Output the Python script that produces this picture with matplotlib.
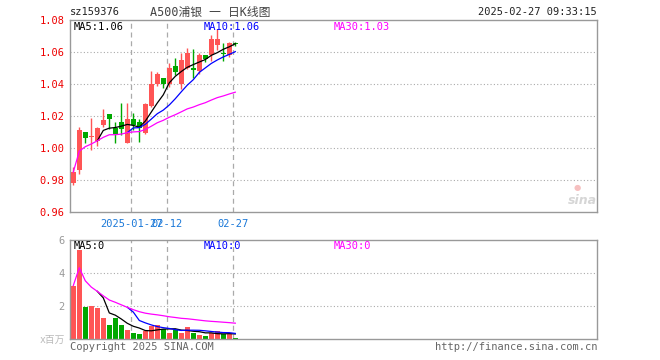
import matplotlib
matplotlib.use('Agg')
import matplotlib.pyplot as plt
import numpy as np

# ---------------- data ----------------
dates = ['2025-01-13', '2025-01-14', '2025-01-15', '2025-01-16', '2025-01-17',
         '2025-01-20', '2025-01-21', '2025-01-22', '2025-01-23', '2025-01-24',
         '2025-01-27', '2025-02-05', '2025-02-06', '2025-02-07', '2025-02-10',
         '2025-02-11', '2025-02-12', '2025-02-13', '2025-02-14', '2025-02-17',
         '2025-02-18', '2025-02-19', '2025-02-20', '2025-02-21', '2025-02-24',
         '2025-02-25', '2025-02-26', '2025-02-27']
opens = [0.978, 0.986, 1.010, 1.0067, 1.0045, 1.0144, 1.021, 1.0127, 1.016, 1.0033,
         1.018, 1.016, 1.0096, 1.026, 1.040, 1.044, 1.040, 1.0515, 1.040, 1.0498,
         1.050, 1.048, 1.058, 1.058, 1.0644, 1.0595, 1.0581, 1.0658]
closes = [0.985, 1.011, 1.0065, 1.0075, 1.0125, 1.0175, 1.018, 1.0085, 1.0117, 1.018,
          1.0144, 1.0125, 1.0275, 1.040, 1.0463, 1.040, 1.050, 1.0477, 1.055, 1.0595,
          1.0485, 1.058, 1.0555, 1.068, 1.068, 1.059, 1.0658, 1.065]
highs = [0.988, 1.013, 1.010, 1.019, 1.013, 1.0244, 1.021, 1.0165, 1.028, 1.028,
         1.022, 1.018, 1.028, 1.048, 1.0477, 1.044, 1.053, 1.056, 1.0595, 1.0625,
         1.062, 1.0595, 1.058, 1.0706, 1.0742, 1.0658, 1.0665, 1.066]
lows = [0.977, 0.984, 1.003, 0.999, 1.001, 1.0133, 1.012, 1.003, 1.008, 1.0029,
        1.011, 1.004, 1.0088, 1.0255, 1.0388, 1.0373, 1.038, 1.0456, 1.037, 1.0495,
        1.044, 1.046, 1.054, 1.0546, 1.0613, 1.0546, 1.0569, 1.0637]
volumes = [3.24, 5.4, 1.94, 2.0, 1.86, 1.26, 0.84, 1.26, 0.84, 0.56,
           0.36, 0.30, 0.50, 0.76, 0.84, 0.60, 0.36, 0.54, 0.36, 0.72,
           0.36, 0.24, 0.18, 0.36, 0.48, 0.30, 0.30, 0.08]

price_ticks = [0.96, 0.98, 1.00, 1.02, 1.04, 1.06, 1.08]
vol_ticks = [2, 4, 6]
date_tick_dates = ['2025-01-27', '2025-02-12', '2025-02-27']
date_tick_labels = ['2025-01-27', '02-12', '02-27']

code = 'sz159376'
title = 'A500浦银 一 日K线图'
stamp = '2025-02-27 09:33:15'
ma_price_labels = ['MA5:1.06', 'MA10:1.06', 'MA30:1.03']
ma_vol_labels = ['MA5:0', 'MA10:0', 'MA30:0']

# ---------------- style ----------------
W, H = 660, 360
UP = '#ff5555'
DOWN = '#00a800'
BORDER = '#999999'
MA_COLORS = ['#000000', '#0000ff', '#ff00ff']
MONO = ['DejaVu Sans Mono', 'Noto Sans CJK SC']

o = np.array(opens); c = np.array(closes); h = np.array(highs); l = np.array(lows)
v = np.array(volumes)
n = len(c)
x = np.arange(n)
up = c >= o
cols = np.where(up, UP, DOWN)


def ma(arr, k, expanding=False):
    out = np.full(len(arr), np.nan)
    for i in range(len(arr)):
        if i + 1 >= k:
            out[i] = arr[i + 1 - k:i + 1].mean()
        elif expanding:
            out[i] = arr[:i + 1].mean()
    return out


fig = plt.figure(figsize=(W / 100, H / 100), dpi=100)


def fx(px):
    return px / W


def fy(py):
    return 1 - py / H


L, R = 70, 597
ax = fig.add_axes([fx(L), fy(212), fx(R - L), (212 - 20) / H])
axv = fig.add_axes([fx(L), fy(339), fx(R - L), (339 - 240) / H])

slots = (R - L) / 6.0
xlim = (-0.55, slots - 0.55)

for a in (ax, axv):
    a.set_xlim(*xlim)
    for s in a.spines.values():
        s.set_color(BORDER)
        s.set_linewidth(1.0)
    a.set_xticks([])
    a.tick_params(axis='y', length=0, pad=4)

# price panel
ax.set_ylim(price_ticks[0], price_ticks[-1])
ax.set_yticks(price_ticks)
ax.set_yticklabels(['%.2f' % t for t in price_ticks], color='#ee0000',
                   fontsize=7.5, family=MONO)
for t in price_ticks[1:-1]:
    ax.axhline(t, color='#aaaaaa', lw=0.8, ls=(0, (1, 2)), zorder=0)

vx = [dates.index(d) - 0.33 for d in date_tick_dates]
for xx in vx:
    ax.axvline(xx, color='#aaaaaa', lw=0.9, ls=(0, (4, 3)), zorder=0)
    axv.axvline(xx, color='#aaaaaa', lw=0.9, ls=(0, (4, 3)), zorder=0)

ax.vlines(x, l, h, colors=cols, lw=1.0, zorder=2)
body_b = np.minimum(o, c)
body_h = np.maximum(np.abs(c - o), 0.0004)
ax.bar(x, body_h, bottom=body_b, width=0.8, color=cols, lw=0, zorder=3)

for k, col, exp in zip((5, 10, 30), MA_COLORS, (False, False, True)):
    ax.plot(x, ma(c, k, exp), color=col, lw=0.9, zorder=4)

for xx, lab in zip(vx, date_tick_labels):
    ax.text(xx, -0.035, lab, transform=ax.get_xaxis_transform(), ha='center',
            va='top', fontsize=7.5, color='#1a78d8', family=MONO)

# volume panel
axv.set_ylim(0, 6)
axv.set_yticks(vol_ticks)
axv.set_yticklabels([str(t) for t in vol_ticks], color='#999999',
                    fontsize=7.5, family=MONO)
for t in vol_ticks[:-1]:
    axv.axhline(t, color='#aaaaaa', lw=0.8, ls=(0, (1, 2)), zorder=0)
axv.bar(x, v, width=0.85, color=cols, lw=0, zorder=2)
for k, col, exp in zip((5, 10, 30), MA_COLORS, (False, False, True)):
    axv.plot(x, ma(v, k, exp), color=col, lw=0.9, zorder=4)

# texts
fig.text(fx(70), fy(12), code, fontsize=7.5, family=MONO, color='#222222',
         ha='left', va='center')
fig.text(fx(150), fy(12), title, fontsize=8.5, family=MONO, color='#444444',
         ha='left', va='center')
fig.text(fx(597), fy(12), stamp, fontsize=7.5, family=MONO, color='#222222',
         ha='right', va='center')

for lab, col, px in zip(ma_price_labels, MA_COLORS, (74, 204, 334)):
    fig.text(fx(px), fy(27), lab, fontsize=7.5, family=MONO, color=col,
             ha='left', va='center')
for lab, col, px in zip(ma_vol_labels, MA_COLORS, (74, 204, 334)):
    fig.text(fx(px), fy(246), lab, fontsize=7.5, family=MONO, color=col,
             ha='left', va='center')

fig.text(fx(65), fy(340), 'x百万', fontsize=7, family=MONO, color='#bbbbbb',
         ha='right', va='center')
fig.text(fx(70), fy(347), 'Copyright 2025 SINA.COM', fontsize=7.5, family=MONO,
         color='#666666', ha='left', va='center')
fig.text(fx(597), fy(347), 'http://finance.sina.com.cn', fontsize=7.5,
         family=MONO, color='#666666', ha='right', va='center')

fig.text(fx(582), fy(201), 'sina', fontsize=9, fontweight='bold',
         style='italic', color='#d6d6d6', ha='center', va='center')
fig.text(fx(577), fy(187), '●', fontsize=6, color='#f6c0c0',
         ha='center', va='center', family=['DejaVu Sans'])

fig.savefig('out.png', dpi=100)
